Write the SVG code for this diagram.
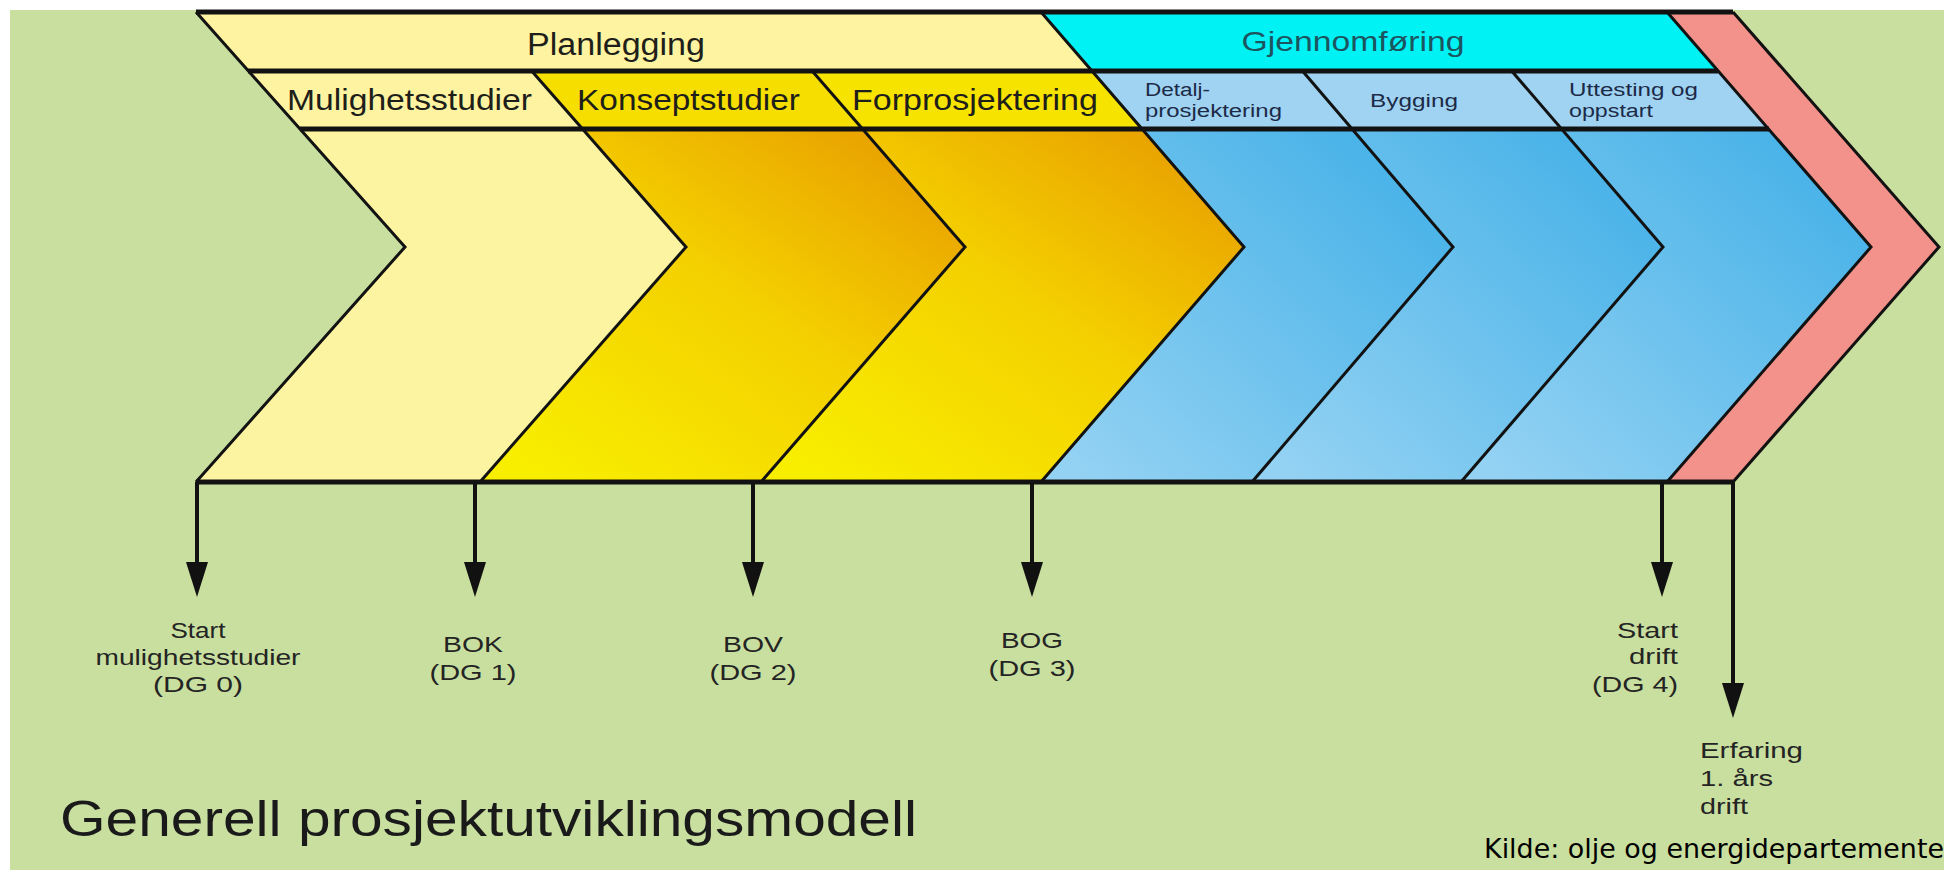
<svg xmlns="http://www.w3.org/2000/svg" width="1944" height="870" viewBox="0 0 1944 870">
<defs>
<style>
.t{font-family:"Liberation Sans",Arial,sans-serif;}
.hd{fill:#1e1e1a;}
.gj{fill:#1c5560;}
.bl{fill:#1c2a48;}
.lb{fill:#242424;font-size:22px;}
.bd{stroke:#121212;stroke-width:3;fill:none;stroke-linejoin:miter;}
.hz{stroke:#121212;stroke-width:5;fill:none;}
.ar{stroke:#111111;stroke-width:4;fill:none;}
</style>
<linearGradient id="gOr" x1="0.15" y1="1" x2="0.85" y2="0">
<stop offset="0" stop-color="#f8ee00"/>
<stop offset="0.45" stop-color="#f4d000"/>
<stop offset="1" stop-color="#e38a00"/>
</linearGradient>
<linearGradient id="gBl" x1="0.1" y1="1" x2="0.9" y2="0">
<stop offset="0" stop-color="#94d2f3"/>
<stop offset="1" stop-color="#34aae5"/>
</linearGradient>
<marker id="ah" viewBox="0 0 35 22" refX="8" refY="11" markerWidth="35" markerHeight="22" markerUnits="userSpaceOnUse" orient="auto">
<path d="M0,0 L35,11 L0,22 z" fill="#111111"/>
</marker>
</defs>
<rect x="0" y="0" width="1944" height="870" fill="#ffffff"/>
<rect x="10" y="10" width="1934" height="860" fill="#c9df9f"/>

<g id="band-mulighetsstudier"><polygon points="196,12 405,247 196,482 480,482 686,247 480,12" fill="#fdf4a2"/></g>
<g id="band-konseptstudier"><polygon points="480,12 686,247 480,482 761,482 965,247 761,12" fill="url(#gOr)"/></g>
<g id="band-forprosjektering"><polygon points="761,12 965,247 761,482 1041,482 1244,247 1041,12" fill="url(#gOr)"/></g>
<g id="band-detaljprosjektering"><polygon points="1041,12 1244,247 1041,482 1252,482 1453,247 1252,12" fill="url(#gBl)"/></g>
<g id="band-bygging"><polygon points="1252,12 1453,247 1252,482 1461,482 1663,247 1461,12" fill="url(#gBl)"/></g>
<g id="band-uttesting"><polygon points="1461,12 1663,247 1461,482 1667,482 1871,247 1667,12" fill="url(#gBl)"/></g>
<g id="band-drift"><polygon points="1667,12 1871,247 1667,482 1733,482 1939,247 1733,12" fill="#f3928b"/></g>

<g id="hdr-planlegging">
<polygon points="196,12 1041,12 1092,71 248.5,71" fill="#fdf3a0"/>
<text class="t hd" x="616" y="55" font-size="31" text-anchor="middle" textLength="178" lengthAdjust="spacingAndGlyphs">Planlegging</text>
</g>
<g id="hdr-gjennomforing">
<polygon points="1041,12 1667,12 1718,71 1092,71" fill="#00f2f4"/>
<text class="t gj" x="1353" y="51" font-size="28" text-anchor="middle" textLength="223" lengthAdjust="spacingAndGlyphs">Gjennomføring</text>
</g>

<g id="cell-mulighetsstudier">
<polygon points="248.5,71 531.7,71 582.6,129 300,129" fill="#fdf3a0"/>
<text class="t hd" x="287" y="110" font-size="30" textLength="245" lengthAdjust="spacingAndGlyphs">Mulighetsstudier</text>
</g>
<g id="cell-konseptstudier">
<polygon points="531.7,71 812.2,71 862.6,129 582.6,129" fill="#f6de00"/>
<text class="t hd" x="577" y="110" font-size="30" textLength="223" lengthAdjust="spacingAndGlyphs">Konseptstudier</text>
</g>
<g id="cell-forprosjektering">
<polygon points="812.2,71 1092,71 1142,129 862.6,129" fill="#f7e300"/>
<text class="t hd" x="852" y="110" font-size="30" textLength="246" lengthAdjust="spacingAndGlyphs">Forprosjektering</text>
</g>
<g id="cell-detalj">
<polygon points="1092,71 1302.5,71 1352,129 1142,129" fill="#9fd3f1"/>
<text class="t bl" x="1145" y="96" font-size="18" textLength="65" lengthAdjust="spacingAndGlyphs">Detalj-</text>
<text class="t bl" x="1145" y="117" font-size="18" textLength="137" lengthAdjust="spacingAndGlyphs">prosjektering</text>
</g>
<g id="cell-bygging">
<polygon points="1302.5,71 1511.7,71 1561.6,129 1352,129" fill="#9fd3f1"/>
<text class="t bl" x="1370" y="107" font-size="19" textLength="88" lengthAdjust="spacingAndGlyphs">Bygging</text>
</g>
<g id="cell-uttesting">
<polygon points="1511.7,71 1718.2,71 1768.6,129 1561.6,129" fill="#9fd3f1"/>
<text class="t bl" x="1569" y="96" font-size="18" textLength="129" lengthAdjust="spacingAndGlyphs">Uttesting og</text>
<text class="t bl" x="1569" y="117" font-size="18" textLength="84" lengthAdjust="spacingAndGlyphs">oppstart</text>
</g>

<g id="outlines">
<line class="hz" x1="196" y1="12" x2="1733" y2="12"/>
<line class="hz" x1="248" y1="71" x2="1718" y2="71"/>
<line class="hz" x1="300" y1="129" x2="1769" y2="129"/>
<line class="hz" x1="196" y1="482" x2="1733" y2="482"/>
<polyline class="bd" points="196,12 405,247 196,482"/>
<polyline class="bd" points="531.7,71 686,247 480,482"/>
<polyline class="bd" points="812.2,71 965,247 761,482"/>
<polyline class="bd" points="1041,12 1244,247 1041,482"/>
<polyline class="bd" points="1302.5,71 1453,247 1252,482"/>
<polyline class="bd" points="1511.7,71 1663,247 1461,482"/>
<polyline class="bd" points="1667,12 1871,247 1667,482"/>
<polyline class="bd" points="1733,12 1939,247 1733,482"/>
</g>

<g id="connectors">
<line class="ar" x1="197" y1="482" x2="197" y2="570" marker-end="url(#ah)"/>
<line class="ar" x1="475" y1="482" x2="475" y2="570" marker-end="url(#ah)"/>
<line class="ar" x1="753" y1="482" x2="753" y2="570" marker-end="url(#ah)"/>
<line class="ar" x1="1032" y1="482" x2="1032" y2="570" marker-end="url(#ah)"/>
<line class="ar" x1="1662" y1="482" x2="1662" y2="570" marker-end="url(#ah)"/>
<line class="ar" x1="1733" y1="482" x2="1733" y2="691" marker-end="url(#ah)"/>
</g>

<g id="ms-dg0">
<text class="t lb" x="198" y="638" text-anchor="middle" textLength="55" lengthAdjust="spacingAndGlyphs">Start</text>
<text class="t lb" x="198" y="665" text-anchor="middle" textLength="205" lengthAdjust="spacingAndGlyphs">mulighetsstudier</text>
<text class="t lb" x="198" y="692" text-anchor="middle" textLength="90" lengthAdjust="spacingAndGlyphs">(DG 0)</text>
</g>
<g id="ms-dg1">
<text class="t lb" x="473" y="652" text-anchor="middle" textLength="60" lengthAdjust="spacingAndGlyphs">BOK</text>
<text class="t lb" x="473" y="680" text-anchor="middle" textLength="87" lengthAdjust="spacingAndGlyphs">(DG 1)</text>
</g>
<g id="ms-dg2">
<text class="t lb" x="753" y="652" text-anchor="middle" textLength="60" lengthAdjust="spacingAndGlyphs">BOV</text>
<text class="t lb" x="753" y="680" text-anchor="middle" textLength="87" lengthAdjust="spacingAndGlyphs">(DG 2)</text>
</g>
<g id="ms-dg3">
<text class="t lb" x="1032" y="648" text-anchor="middle" textLength="62" lengthAdjust="spacingAndGlyphs">BOG</text>
<text class="t lb" x="1032" y="676" text-anchor="middle" textLength="87" lengthAdjust="spacingAndGlyphs">(DG 3)</text>
</g>
<g id="ms-dg4">
<text class="t lb" x="1678" y="638" text-anchor="end" textLength="61" lengthAdjust="spacingAndGlyphs">Start</text>
<text class="t lb" x="1678" y="664" text-anchor="end" textLength="49" lengthAdjust="spacingAndGlyphs">drift</text>
<text class="t lb" x="1678" y="692" text-anchor="end" textLength="86" lengthAdjust="spacingAndGlyphs">(DG 4)</text>
</g>
<g id="ms-erfaring">
<text class="t lb" x="1700" y="758" textLength="103" lengthAdjust="spacingAndGlyphs">Erfaring</text>
<text class="t lb" x="1700" y="786" textLength="73" lengthAdjust="spacingAndGlyphs">1. års</text>
<text class="t lb" x="1700" y="814" textLength="48" lengthAdjust="spacingAndGlyphs">drift</text>
</g>

<g id="title">
<text class="t" x="60" y="836" font-size="50" fill="#1a1a1a" textLength="857" lengthAdjust="spacingAndGlyphs">Generell prosjektutviklingsmodell</text>
</g>
<g id="source">
<text x="1484" y="858" font-family="'DejaVu Sans',Verdana,sans-serif" font-size="27" fill="#000000" textLength="460" lengthAdjust="spacingAndGlyphs">Kilde: olje og energidepartemente</text>
</g>
</svg>
